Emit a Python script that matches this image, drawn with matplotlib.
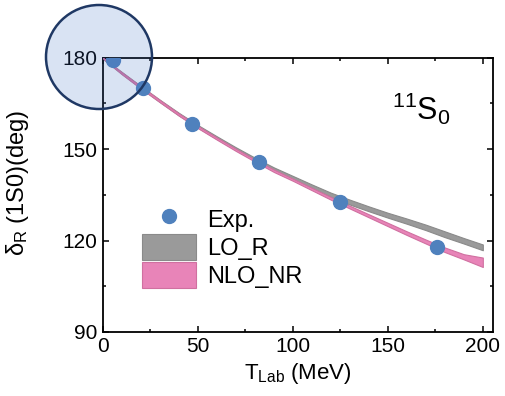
import matplotlib
matplotlib.use('Agg')
import matplotlib.pyplot as plt
from matplotlib.patches import Ellipse
from matplotlib.ticker import MultipleLocator
import numpy as np

plt.rcParams['font.family'] = ['Liberation Sans', 'DejaVu Sans']
plt.rcParams['mathtext.fontset'] = 'custom'
plt.rcParams['mathtext.rm'] = 'Liberation Sans'
plt.rcParams['mathtext.it'] = 'Liberation Sans:italic'

# experimental points
t_exp = [5, 21, 47, 82, 125, 176]
d_exp = [179.2, 170.0, 158.2, 145.8, 132.6, 117.8]

# bands
t_band = [0, 10, 20, 30, 40, 50, 60, 70, 80, 90, 100,
          110, 120, 130, 140, 150, 160, 170, 180, 190, 200]
nlo_lo = [179.8, 174.6, 169.9, 165.4, 161.0, 156.9, 153.1, 149.4, 145.9, 142.5, 139.6,
          136.5, 133.4, 130.5, 127.6, 124.7, 121.8, 119.0, 116.2, 113.8, 111.3]
nlo_hi = [180.0, 175.2, 170.6, 166.1, 161.7, 157.6, 153.8, 150.1, 146.6, 143.3, 140.3,
          137.3, 134.3, 131.4, 128.6, 125.8, 123.0, 120.3, 117.7, 115.5, 114.4]
lo_lo = [179.6, 174.6, 169.9, 165.4, 161.0, 157.0, 153.3, 149.7, 146.3, 143.0, 140.0,
         137.2, 134.3, 131.8, 129.6, 127.5, 125.5, 123.4, 121.1, 119.0, 116.8]
lo_hi = [180.0, 175.3, 170.7, 166.2, 161.9, 157.9, 154.2, 150.6, 147.2, 144.0, 141.2,
         138.4, 135.7, 133.4, 131.2, 129.1, 127.2, 125.2, 123.0, 120.8, 118.7]

fig = plt.figure(figsize=(5.05, 3.96), dpi=100)
ax = fig.add_axes([0.204, 0.162, 0.772, 0.692])

ax.fill_between(t_band, lo_lo, lo_hi, color='#9a9a9a', lw=0.8, edgecolor='#8a8a8a',
                label='LO_R', zorder=2)
ax.fill_between(t_band, nlo_lo, nlo_hi, color='#e884b8', lw=0.8, edgecolor='#d070a0',
                label='NLO_NR', zorder=3)
ax.plot(t_exp, d_exp, 'o', color='#4f81bd', ms=10, label='Exp.', zorder=4)

ax.set_xlim(0, 205.3)
ax.set_ylim(90, 180)
ax.xaxis.set_major_locator(MultipleLocator(50))
ax.xaxis.set_minor_locator(MultipleLocator(25))
ax.yaxis.set_major_locator(MultipleLocator(30))
ax.yaxis.set_minor_locator(MultipleLocator(15))
ax.tick_params(which='both', direction='in', top=True, right=True, labelsize=15, width=1.1)
ax.tick_params(which='major', length=4.5, pad=4)
ax.tick_params(which='minor', length=2.5)
for s in ax.spines.values():
    s.set_linewidth(1.3)

ax.set_xlabel('T$_\\mathrm{Lab}$ (MeV)', fontsize=16, labelpad=3)
ax.set_ylabel('\u03b4$_\\mathrm{R}$ (1S0)(deg)', fontsize=17, labelpad=9)
ax.yaxis.set_label_coords(-0.185, 0.545)

ax.text(0.741, 0.774, '$^{11}$S$_0$', transform=ax.transAxes, fontsize=22,
        va='baseline')

h, l = ax.get_legend_handles_labels()
order = [2, 0, 1]
ax.legend([h[i] for i in order], [l[i] for i in order], loc='upper left',
          bbox_to_anchor=(0.1, 0.46), frameon=False, fontsize=17,
          handlelength=2.3, handleheight=1.3, labelspacing=0.1,
          handletextpad=0.45, borderpad=0, borderaxespad=0)

circ = Ellipse((99, 396 - 57), 106, 104, transform=None,
               facecolor=(0.27, 0.45, 0.77, 0.2), edgecolor='#1f3864', lw=1.8, zorder=10)
fig.patches.append(circ)

fig.savefig('out.png', dpi=100)
